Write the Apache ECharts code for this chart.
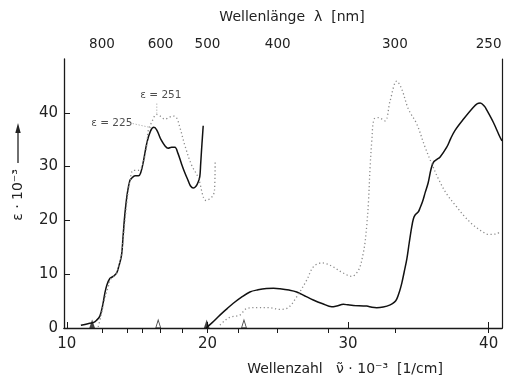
<!DOCTYPE html>
<html><head><meta charset="utf-8">
<script src="https://cdn.jsdelivr.net/npm/echarts@6/dist/echarts.min.js"></script>
<style>html,body{margin:0;padding:0;background:#fff}#c{width:515px;height:379px}</style>
</head><body><div id="c"></div>
<script>
// wavenumber (10^3 cm^-1) vs epsilon (10^3)
const solidLow = [[11.0,0.5],[11.5,0.8],[11.87,1.0],[12.1,1.4],[12.35,2.2],[12.55,4.2],[12.7,6.4],[12.85,8.0],[13.06,9.2],[13.3,9.6],[13.54,10.2],[13.7,11.5],[13.89,13.5],[14.0,17],[14.13,21.2],[14.3,25],[14.48,27.4],[14.6,27.8],[14.85,28.3],[15.1,28.3],[15.25,28.8],[15.45,31],[15.7,34.5],[15.95,36.6],[16.19,37.3],[16.4,36.8],[16.7,35],[17.0,33.8],[17.2,33.4],[17.45,33.6],[17.69,33.6],[17.9,32.5],[18.16,30.5],[18.4,28.8],[18.63,27.4],[18.8,26.4],[18.99,26.0],[19.2,26.4],[19.35,27.2],[19.46,28.2],[19.52,30.5],[19.58,33],[19.64,35.3],[19.7,37.6]];
const solidHigh = [[19.9,0],[20.3,0.9],[20.89,2.4],[21.4,3.6],[21.84,4.6],[22.4,5.7],[23.02,6.7],[23.6,7.1],[24.2,7.35],[24.7,7.4],[25.16,7.3],[25.8,7.05],[26.35,6.7],[26.9,6.0],[27.53,5.2],[28.2,4.5],[28.84,3.95],[29.2,4.1],[29.67,4.4],[30.0,4.3],[30.38,4.2],[31.33,4.07],[31.7,3.85],[32.04,3.77],[32.5,3.9],[33.0,4.3],[33.3,4.8],[33.47,5.4],[33.65,6.7],[33.82,8.3],[34.0,10.5],[34.18,12.8],[34.35,15.8],[34.53,18.8],[34.65,20.3],[34.77,21.0],[35.0,21.6],[35.12,22.3],[35.3,23.5],[35.5,25.3],[35.7,27.0],[35.9,29.5],[36.07,30.8],[36.3,31.3],[36.55,31.8],[37.02,33.6],[37.3,35.2],[37.6,36.7],[38.2,38.8],[38.9,41.0],[39.2,41.7],[39.4,41.8],[39.7,41.2],[39.87,40.5],[40.34,38.2],[40.82,35.4],[40.95,34.8]];
const dottedLow = [[12.23,0.2],[12.47,2.7],[12.7,5.5],[12.94,7.6],[13.1,9.0],[13.4,9.8],[13.6,10.6],[13.9,14],[14.1,19],[14.3,24],[14.5,27.5],[14.72,29.3],[15.07,29.3],[15.35,30],[15.67,33.6],[15.79,36.7],[16.03,38.2],[16.38,39.7],[16.7,39.3],[16.97,38.8],[17.3,39.2],[17.57,39.4],[17.8,39.1],[18.04,37.3],[18.4,33.9],[18.87,30.3],[19.34,28],[19.9,23.7],[20.3,24.3],[20.5,25.5],[20.55,31]];
const dottedHigh = [[20.89,0.55],[21.2,1.3],[21.6,2.0],[22.3,2.4],[22.79,3.6],[23.6,3.8],[24.3,3.8],[25.16,3.46],[25.75,3.8],[26.35,5.8],[27.06,8.9],[27.53,11.35],[28.12,12.1],[28.5,11.9],[28.95,11.35],[29.6,10.3],[30.27,9.6],[30.6,10.2],[30.85,11.35],[31.05,13.5],[31.2,15.7],[31.33,19.0],[31.45,23.3],[31.57,29.9],[31.69,34.8],[31.85,38.8],[32.16,39.1],[32.63,38.5],[32.99,42.2],[33.47,45.9],[33.82,44.4],[34.29,40.7],[34.89,37.9],[35.48,33.6],[35.96,30.5],[36.43,27.7],[37.02,24.9],[37.73,22.5],[38.3,20.7],[38.92,19.1],[39.5,18.0],[39.98,17.4],[40.58,17.5],[40.82,18.0]];
const filledMarkers = [11.8, 19.95];
const openMarkers = [16.5, 22.6];
const xTicks = [10, 20, 30, 40];
const yTicks = [0, 10, 20, 30, 40];
const lambdaLabels = [800, 600, 500, 400, 300, 250];
const lambdaTicks = [800, 700, 650, 600, 550, 500, 450, 400, 350, 300, 250];
const annotations = [
  {text: 'ε = 251', at: [16.69, 43.3], leader: [[16.4, 41.7], [16.4, 39.9]]},
  {text: 'ε = 225', at: [13.2, 38.1], leader: [[14.69, 38.0], [16.05, 37.2]]}
];

const FONT = '"DejaVu Sans", sans-serif';
const toNu = l => 10000 / l;
const chart = echarts.init(document.getElementById('c'), null, {renderer: 'canvas'});
const axisCol = '#1a1a1a';
const xMin = 9.8, xMax = 40.95;

const lineSeries = (data, solid) => ({
  type: 'line', data, showSymbol: false, smooth: 0.35, silent: true,
  lineStyle: solid ? {color: '#111', width: 1.5} : {color: '#8a8a8a', width: 1.3, type: [1.2, 2.6]}
});

const series = [
  lineSeries(solidLow, true), lineSeries(solidHigh, true),
  lineSeries(dottedLow, false), lineSeries(dottedHigh, false),
  {type: 'scatter', data: filledMarkers.map(v => [v, 0]), symbol: 'triangle', symbolSize: [6, 9], symbolOffset: [0, -4],
   itemStyle: {color: '#111'}, silent: true, z: 5},
  {type: 'scatter', data: openMarkers.map(v => [v, 0]), symbol: 'triangle', symbolSize: [5, 8], symbolOffset: [0, -4],
   itemStyle: {color: '#fff', borderColor: '#111', borderWidth: 1}, silent: true, z: 5},
  {type: 'scatter', data: annotations.map(a => ({value: a.at, name: a.text})), symbolSize: 0, silent: true,
   label: {show: true, position: 'inside', formatter: p => p.name, fontFamily: FONT, fontSize: 10.5, color: '#222'}}
];
annotations.forEach(a => series.push({type: 'line', data: a.leader, showSymbol: false, silent: true,
  lineStyle: {color: '#999', width: 1, type: [1, 2]}}));

const txt = (x, y, text, rot) => ({type: 'text', x, y, rotation: rot || 0,
  style: {text, font: '14px ' + FONT, fill: '#222', align: 'center', verticalAlign: 'middle',
    textAlign: 'center', textVerticalAlign: 'middle'}});

chart.setOption({
  animation: false,
  backgroundColor: '#fff',
  grid: {left: 64, right: 13, top: 59, bottom: 51},
  xAxis: [
    {type: 'value', position: 'bottom', min: xMin, max: xMax,
     axisLine: {show: true, lineStyle: {color: axisCol, width: 1.3}},
     axisTick: {show: true, inside: true, length: 6, customValues: xTicks, lineStyle: {color: axisCol}},
     axisLabel: {customValues: xTicks, margin: 9, fontFamily: FONT, fontSize: 15, color: '#222'},
     splitLine: {show: false}},
    {type: 'value', position: 'top', min: xMin, max: xMax,
     axisLine: {show: true, lineStyle: {color: axisCol, width: 1.2}},
     axisTick: {show: true, inside: true, length: 5, customValues: lambdaTicks.map(toNu), lineStyle: {color: axisCol}},
     axisLabel: {customValues: lambdaLabels.map(toNu), formatter: v => String(Math.round(10000 / v)), margin: 8,
       fontFamily: FONT, fontSize: 13.5, color: '#222'},
     splitLine: {show: false}}
  ],
  yAxis: [
    {type: 'value', position: 'left', min: 0, max: 50,
     axisLine: {show: true, lineStyle: {color: axisCol, width: 1.3}},
     axisTick: {show: true, inside: true, length: 6, customValues: yTicks, lineStyle: {color: axisCol}},
     axisLabel: {customValues: yTicks, margin: 6, fontFamily: FONT, fontSize: 15, color: '#222'},
     splitLine: {show: false}},
    {type: 'value', position: 'right', min: 0, max: 50,
     axisLine: {show: true, lineStyle: {color: axisCol, width: 1.2}},
     axisTick: {show: false}, axisLabel: {show: false}, splitLine: {show: false}}
  ],
  graphic: [
    txt(292, 17, 'Wellenlänge  λ  [nm]'),
    txt(345, 369, 'Wellenzahl   ν̃ · 10⁻³  [1/cm]'),
    txt(18, 195, 'ε · 10⁻³', Math.PI / 2),
    {type: 'line', shape: {x1: 18, y1: 163, x2: 18, y2: 131}, style: {stroke: '#222', lineWidth: 1.3}},
    {type: 'polygon', shape: {points: [[18, 123], [15.3, 133], [20.7, 133]]}, style: {fill: '#222'}}
  ],
  series
});
</script></body></html>
